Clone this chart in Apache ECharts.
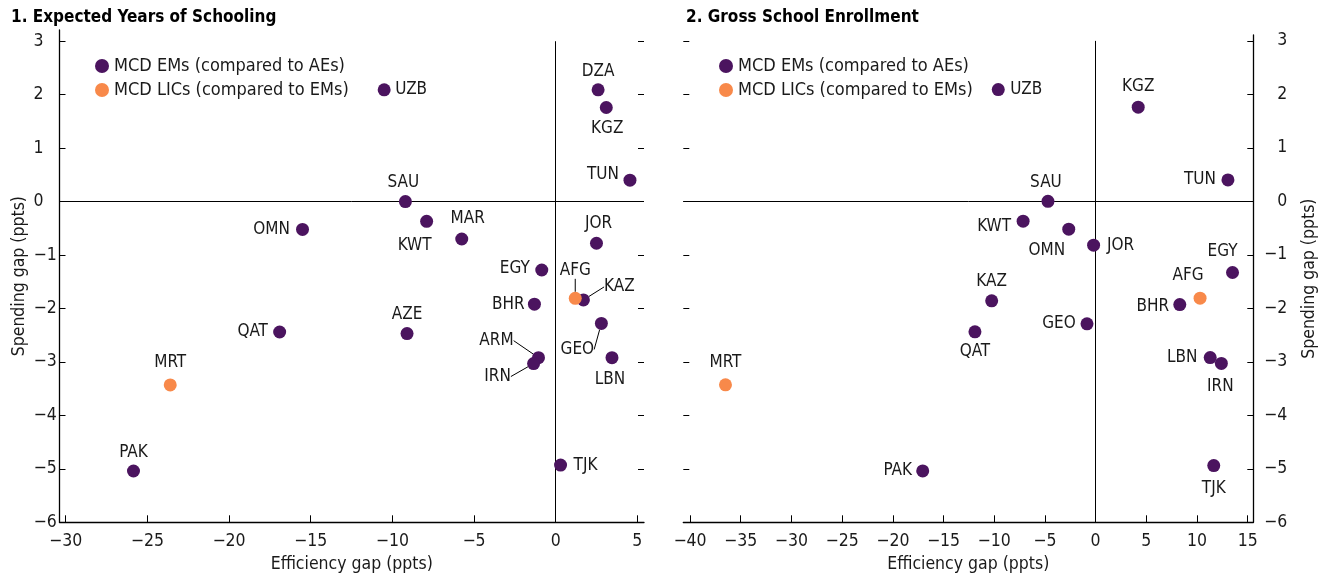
<!DOCTYPE html>
<html>
<head>
<meta charset="utf-8">
<style>
  html, body { margin: 0; padding: 0; background: #fff; }
  #chart { width: 1325px; height: 582px; }
</style>
<script src="https://cdn.jsdelivr.net/npm/echarts@6.0.0/dist/echarts.min.js"></script>
</head>
<body>
<div id="chart"></div>
<script>
// Panel 1: expected years of schooling
const countries1 = ['UZB', 'DZA', 'KGZ', 'TUN', 'SAU', 'OMN', 'KWT', 'MAR', 'JOR', 'EGY', 'AFG',
                    'KAZ', 'BHR', 'GEO', 'QAT', 'AZE', 'ARM', 'IRN', 'LBN', 'MRT', 'PAK', 'TJK'];
const efficiency1 = [-10.5, 2.6, 3.1, 4.55, -9.2, -15.5, -7.9, -5.75, 2.5, -0.85, 1.2,
                     1.7, -1.3, 2.8, -16.9, -9.1, -1.05, -1.35, 3.45, -23.6, -25.85, 0.3];
const spending1 = [2.09, 2.09, 1.76, 0.40, 0.0, -0.52, -0.37, -0.70, -0.78, -1.28, -1.81,
                   -1.84, -1.92, -2.28, -2.44, -2.47, -2.92, -3.03, -2.92, -3.43, -5.04, -4.93];

// Panel 2: gross school enrollment
const countries2 = ['UZB', 'KGZ', 'TUN', 'SAU', 'KWT', 'OMN', 'JOR', 'EGY', 'AFG', 'BHR', 'KAZ',
                    'GEO', 'QAT', 'LBN', 'IRN', 'MRT', 'PAK', 'TJK'];
const efficiency2 = [-9.6, 4.2, 13.05, -4.7, -7.15, -2.65, -0.2, 13.5, 10.3, 8.3, -10.25,
                     -0.85, -11.9, 11.3, 12.4, -36.5, -17.05, 11.65];
const spending2 = [2.09, 1.76, 0.40, 0.0, -0.37, -0.52, -0.82, -1.33, -1.81, -1.93, -1.86,
                   -2.29, -2.44, -2.92, -3.03, -3.43, -5.04, -4.94];

const licCountries = ['AFG', 'MRT'];
const groupNames = ['MCD EMs (compared to AEs)', 'MCD LICs (compared to EMs)'];
const yTicks = [-6, -5, -4, -3, -2, -1, 0, 1, 2, 3];
const xTicks1 = [-30, -25, -20, -15, -10, -5, 0, 5];
const xTicks2 = [-40, -35, -30, -25, -20, -15, -10, -5, 0, 5, 10, 15];

// label placement (shift of label centre from dot, px)
const place1 = {
  UZB: [27, 0], DZA: [0, -18], KGZ: [1, 21], TUN: [-27, -6], SAU: [-2, -19], OMN: [-31, 0],
  KWT: [-12, 24], MAR: [6, -20], JOR: [2, -20], EGY: [-27, -1], AFG: [0, -28], KAZ: [36, -13],
  BHR: [-26, 0], GEO: [-24, 26], QAT: [-27, 0], AZE: [0, -19], ARM: [-42, -17], IRN: [-36, 13],
  LBN: [-2, 22], MRT: [0, -22], PAK: [0, -18], TJK: [25, 0]
};
const leaders1 = ['AFG', 'KAZ', 'GEO', 'ARM', 'IRN'];
const place2 = {
  UZB: [28, 0], KGZ: [0, -21], TUN: [-28, 0], SAU: [-2, -19], KWT: [-29, 5], OMN: [-22, 21],
  JOR: [27, 0], EGY: [-10, -21], AFG: [-12, -23], BHR: [-27, 2], KAZ: [0, -19], GEO: [-28, 0],
  QAT: [0, 20], LBN: [-28, 0], IRN: [-1, 23], MRT: [0, -22], PAK: [-25, 0], TJK: [0, 23]
};

const FONT = '"Liberation Sans Narrow", "DejaVu Sans Condensed", "Liberation Sans", sans-serif';
const TXT = '#1a1a1a';
const PURPLE = '#4b145f';
const ORANGE = '#f8894a';

const fmt = v => (v < 0 ? '\u2212' + Math.abs(v) : String(v));

function points(countries, xs, ys, lic, leaders) {
  const out = [];
  countries.forEach((c, i) => {
    if (licCountries.includes(c) !== lic) return;
    const item = { name: c, value: [xs[i], ys[i]] };
    if (leaders.includes(c)) item.labelLine = { show: true };
    out.push(item);
  });
  return out;
}

function scatter(name, color, panel, data, place, withLines) {
  const s = {
    name: name,
    type: 'scatter',
    xAxisIndex: panel,
    yAxisIndex: panel * 2,
    symbolSize: 13,
    itemStyle: { color: color, opacity: 1 },
    label: {
      show: true, position: 'inside', formatter: '{b}',
      color: TXT, fontSize: 17, fontFamily: FONT
    },
    labelLayout: function (p) {
      const d = place[p.text];
      return d ? { dx: d[0], dy: d[1] } : {};
    },
    labelLine: { show: false, length2: 0, lineStyle: { color: '#000', width: 1 } },
    emphasis: { disabled: true },
    z: 3,
    data: data
  };
  if (withLines) {
    s.markLine = {
      silent: true, symbol: 'none', z: 1, animation: false,
      label: { show: false },
      lineStyle: { color: '#000', width: 1, type: 'solid' },
      emphasis: { disabled: true },
      data: [
        { yAxis: 0 },
        [{ coord: [0, -6] }, { coord: [0, 3] }]
      ]
    };
  }
  return s;
}

const axisText = { color: TXT, fontSize: 17.5, fontFamily: FONT };

function xAxis(grid, min, max, ticks) {
  return {
    type: 'value', gridIndex: grid, min: min, max: max,
    name: 'Efficiency gap (ppts)', nameLocation: 'middle', nameGap: 32,
    nameTextStyle: axisText,
    axisLine: { show: true, onZero: false, lineStyle: { color: '#000', width: 1.3 } },
    axisTick: { show: true, inside: true, length: 7, customValues: ticks, lineStyle: { color: '#000' } },
    axisLabel: Object.assign({ customValues: ticks, formatter: fmt, margin: 10 }, axisText),
    splitLine: { show: false }
  };
}

function yAxisLabelled(grid, max, pos, align, margin, nameGap) {
  return {
    type: 'value', gridIndex: grid, min: -6, max: max, position: pos,
    name: 'Spending gap (ppts)', nameLocation: 'middle', nameGap: nameGap, nameRotate: 90,
    nameTextStyle: axisText,
    axisLine: { show: true, onZero: false, lineStyle: { color: '#000', width: 1.3 } },
    axisTick: { show: true, inside: true, length: 6, customValues: yTicks, lineStyle: { color: '#000' } },
    axisLabel: Object.assign({ customValues: yTicks, formatter: fmt, align: align, margin: margin }, axisText),
    splitLine: { show: false }
  };
}

function yAxisTicksOnly(grid, max, pos) {
  return {
    type: 'value', gridIndex: grid, min: -6, max: max, position: pos,
    axisLine: { show: false, onZero: false },
    axisTick: { show: true, inside: true, length: 6, customValues: yTicks, lineStyle: { color: '#000' } },
    axisLabel: { show: false },
    splitLine: { show: false }
  };
}

function legend(left) {
  return {
    left: left, top: 52, orient: 'vertical', itemGap: 6,
    icon: 'circle', itemWidth: 14, itemHeight: 14,
    textStyle: { color: TXT, fontSize: 18, fontFamily: FONT },
    selectedMode: false,
    data: groupNames
  };
}

const option = {
  animation: false,
  backgroundColor: '#fff',
  title: [
    { text: '1. Expected Years of Schooling', left: 6, top: 4,
      textStyle: { color: '#000', fontSize: 17, fontWeight: 'bold', fontFamily: FONT } },
    { text: '2. Gross School Enrollment', left: 681, top: 4,
      textStyle: { color: '#000', fontSize: 17, fontWeight: 'bold', fontFamily: FONT } }
  ],
  legend: [legend(90), legend(714)],
  grid: [
    { left: 59.5, right: 681, top: 30, bottom: 59.7, containLabel: false, outerBoundsMode: 'none' },
    { left: 683.3, right: 71.7, top: 35, bottom: 59.7, containLabel: false, outerBoundsMode: 'none' }
  ],
  xAxis: [
    xAxis(0, -30.38, 5.41, xTicks1),
    xAxis(1, -40.66, 15.55, xTicks2)
  ],
  yAxis: [
    yAxisLabelled(0, 3.21, 'left', 'left', 26, 31),
    yAxisTicksOnly(0, 3.21, 'right'),
    yAxisLabelled(1, 3.11, 'right', 'right', 34, 47),
    yAxisTicksOnly(1, 3.11, 'left')
  ],
  series: [
    scatter(groupNames[0], PURPLE, 0, points(countries1, efficiency1, spending1, false, leaders1), place1, true),
    scatter(groupNames[1], ORANGE, 0, points(countries1, efficiency1, spending1, true, leaders1), place1, false),
    scatter(groupNames[0], PURPLE, 1, points(countries2, efficiency2, spending2, false, []), place2, true),
    scatter(groupNames[1], ORANGE, 1, points(countries2, efficiency2, spending2, true, []), place2, false)
  ]
};

const chart = echarts.init(document.getElementById('chart'), null, { renderer: 'canvas' });
chart.setOption(option);
</script>
</body>
</html>
